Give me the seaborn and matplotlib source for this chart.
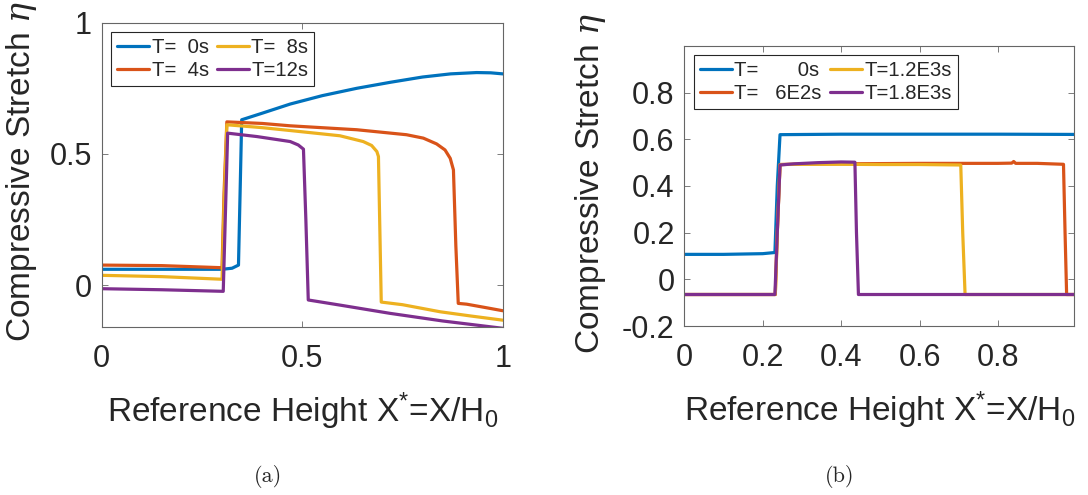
import numpy as np
import pandas as pd
import matplotlib
matplotlib.use("Agg")
import matplotlib.pyplot as plt
from matplotlib.lines import Line2D
import seaborn as sns

# ---------------- data: panel (a) ----------------
labels_a = ["T=  0s", "T=  4s", "T=  8s", "T=12s"]
x_a0 = [0, 0.10, 0.20, 0.30, 0.325, 0.341, 0.345, 0.349, 0.40, 0.47, 0.55, 0.636, 0.72, 0.80, 0.87, 0.935, 0.97, 1.0]
y_a0 = [0.060, 0.060, 0.060, 0.060, 0.064, 0.076, 0.35, 0.630, 0.655, 0.690, 0.722, 0.750, 0.773, 0.793, 0.805, 0.810, 0.809, 0.805]
x_a4 = [0, 0.15, 0.30, 0.305, 0.312, 0.40, 0.47, 0.636, 0.76, 0.802, 0.835, 0.856, 0.869, 0.877, 0.883, 0.889, 0.91, 0.95, 1.0]
y_a4 = [0.076, 0.074, 0.066, 0.35, 0.622, 0.616, 0.607, 0.592, 0.573, 0.560, 0.538, 0.515, 0.483, 0.439, 0.15, -0.070, -0.073, -0.084, -0.098]
x_a8 = [0, 0.15, 0.30, 0.305, 0.312, 0.40, 0.47, 0.594, 0.652, 0.673, 0.686, 0.690, 0.697, 0.75, 0.844, 0.92, 1.0]
y_a8 = [0.037, 0.032, 0.022, 0.30, 0.611, 0.600, 0.589, 0.569, 0.547, 0.532, 0.509, 0.490, -0.065, -0.075, -0.102, -0.118, -0.134]
x_a12 = [0, 0.15, 0.303, 0.308, 0.314, 0.387, 0.47, 0.49, 0.503, 0.509, 0.515, 0.60, 0.719, 0.85, 1.0]
y_a12 = [-0.014, -0.018, -0.024, 0.25, 0.579, 0.566, 0.547, 0.534, 0.518, 0.25, -0.057, -0.078, -0.108, -0.137, -0.165]

# ---------------- data: panel (b) ----------------
labels_b = ["T=       0s", "T=   6E2s", "T=1.2E3s", "T=1.8E3s"]
x_b0 = [0, 0.10, 0.20, 0.231, 0.237, 0.244, 0.40, 0.60, 0.80, 0.994]
y_b0 = [0.107, 0.107, 0.110, 0.115, 0.40, 0.620, 0.622, 0.622, 0.622, 0.621]
x_b1 = [0, 0.10, 0.20, 0.232, 0.237, 0.244, 0.30, 0.40, 0.50, 0.60, 0.70, 0.80, 0.835, 0.840, 0.845, 0.90, 0.967, 0.971, 0.975, 0.994]
y_b1 = [-0.065, -0.065, -0.065, -0.065, 0.20, 0.492, 0.494, 0.495, 0.496, 0.497, 0.497, 0.497, 0.498, 0.505, 0.497, 0.497, 0.493, 0.20, -0.065, -0.065]
x_b2 = [0, 0.10, 0.20, 0.232, 0.237, 0.244, 0.30, 0.40, 0.50, 0.60, 0.705, 0.710, 0.716, 0.80, 0.994]
y_b2 = [-0.065, -0.065, -0.065, -0.065, 0.20, 0.492, 0.493, 0.493, 0.492, 0.492, 0.490, 0.20, -0.065, -0.065, -0.065]
x_b3 = [0, 0.10, 0.20, 0.231, 0.237, 0.244, 0.28, 0.34, 0.40, 0.435, 0.439, 0.444, 0.60, 0.80, 0.994]
y_b3 = [-0.065, -0.065, -0.065, -0.065, 0.20, 0.490, 0.495, 0.500, 0.503, 0.502, 0.20, -0.065, -0.065, -0.065, -0.065]

colors = ["#0072BD", "#D95319", "#EDB120", "#7E2F8E"]

sns.set_theme(style="ticks")
plt.rcParams["font.family"] = ["Liberation Sans", "DejaVu Sans"]
plt.rcParams["mathtext.fontset"] = "custom"
plt.rcParams["mathtext.rm"] = "Liberation Sans"
plt.rcParams["mathtext.it"] = "DejaVu Serif:italic"
plt.rcParams["axes.edgecolor"] = "#666666"
plt.rcParams["axes.linewidth"] = 0.8

fig = plt.figure(figsize=(10.88, 4.95), dpi=100)
ax_a = fig.add_axes([0.0935, 0.3394, 0.3686, 0.6147])
ax_b = fig.add_axes([0.629, 0.3414, 0.3582, 0.5657])


def make_df(xs, ys, labels):
    frames = []
    for x, y, lab in zip(xs, ys, labels):
        frames.append(pd.DataFrame({"x": x, "y": y, "series": lab}))
    return pd.concat(frames, ignore_index=True)


df_a = make_df([x_a0, x_a4, x_a8, x_a12], [y_a0, y_a4, y_a8, y_a12], labels_a)
df_b = make_df([x_b0, x_b1, x_b2, x_b3], [y_b0, y_b1, y_b2, y_b3], labels_b)

TICK_FS = 22
LABEL_FS = 24
LEG_FS = 14.6

for ax, df, labels, xlim, ylim, xticks, yticks, ytl, leg_anchor in [
    (ax_a, df_a, labels_a, (0, 1), (-0.16, 1.0), [0, 0.5, 1], [0, 0.5, 1], ["0", "0.5", "1"], (0.023, 0.97)),
    (ax_b, df_b, labels_b, (0, 0.994), (-0.2, 1.0), [0, 0.2, 0.4, 0.6, 0.8],
     [-0.2, 0, 0.2, 0.4, 0.6, 0.8], ["-0.2", "0", "0.2", "0.4", "0.6", "0.8"], (0.024, 0.967)),
]:
    sns.lineplot(data=df, x="x", y="y", hue="series", hue_order=labels, palette=colors,
                 sort=False, estimator=None, linewidth=2.3, legend=False, ax=ax)
    ax.set_xlim(*xlim)
    ax.set_ylim(*ylim)
    ax.set_xticks(xticks)
    ax.set_xticklabels([("%g" % t) for t in xticks])
    ax.set_yticks(yticks)
    ax.set_yticklabels(ytl)
    ax.tick_params(direction="in", length=4, width=0.6, colors="#666666", labelcolor="#262626",
                   labelsize=TICK_FS, top=True, right=True)
    ax.tick_params(axis="y", pad=7)
    ax.tick_params(axis="x", pad=12)
    for sp in ax.spines.values():
        sp.set_visible(True)
    ax.set_xlabel("Reference Height X$^{*}$=X/H$_{0}$", fontsize=LABEL_FS, color="#262626", labelpad=12)
    ax.set_ylabel("Compressive Stretch $\\eta$", fontsize=LABEL_FS, color="#262626")
    handles = [Line2D([], [], color=c, lw=2.3) for c in colors]
    leg = ax.legend(handles, labels, ncol=2, loc="upper left", bbox_to_anchor=leg_anchor,
                    borderaxespad=0, fontsize=LEG_FS, frameon=True, fancybox=False,
                    handlelength=1.6, handletextpad=0.1, columnspacing=0.4,
                    borderpad=0.3, labelspacing=0.2)
    leg.get_frame().set_edgecolor("#262626")
    leg.get_frame().set_linewidth(0.8)
    leg.get_frame().set_alpha(1)

ax_a.yaxis.set_label_coords(-0.156, 0.51)
ax_b.yaxis.set_label_coords(-0.196, 0.51)

fig.text(268 / 1088, 1 - 476 / 495, "(a)", ha="center", va="center", fontsize=16, family="cmr10")
fig.text(840 / 1088, 1 - 476 / 495, "(b)", ha="center", va="center", fontsize=16, family="cmr10")

fig.savefig("out.png", dpi=100)
